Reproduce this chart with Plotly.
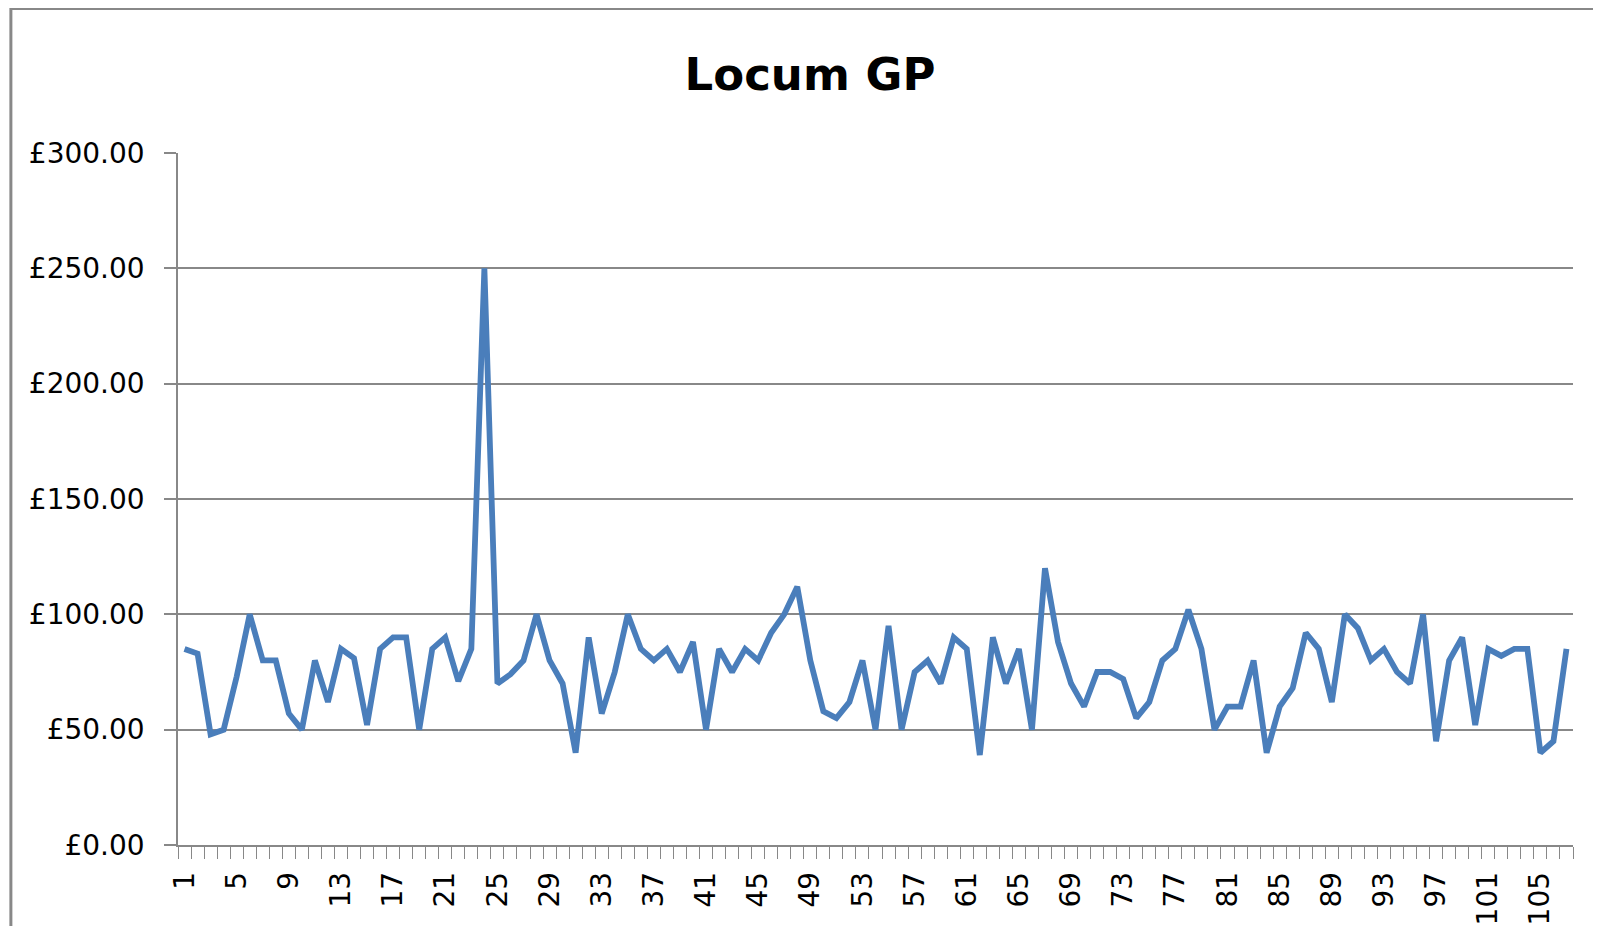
import plotly.graph_objects as go

FONT = "DejaVu Sans"
LINE_COLOR = "#4A7EBB"
GRID_COLOR = "#888888"

# one value per locum session
sessions = list(range(1, 108))
rates = [85, 83, 48, 50, 73, 100, 80, 80, 57, 50,
         80, 62, 85, 81, 52, 85, 90, 90, 50, 85,
         90, 71, 85, 250, 70, 74, 80, 100, 80, 70,
         40, 90, 57, 75, 100, 85, 80, 85, 75, 88,
         50, 85, 75, 85, 80, 92, 100, 112, 80, 58,
         55, 62, 80, 50, 95, 50, 75, 80, 70, 90,
         85, 39, 90, 70, 85, 50, 120, 88, 70, 60,
         75, 75, 72, 55, 62, 80, 85, 102, 85, 50,
         60, 60, 80, 40, 60, 68, 92, 85, 62, 100,
         94, 80, 85, 75, 70, 100, 45, 80, 90, 52,
         85, 82, 85, 85, 40, 45, 85]
tick_labels = list(range(1, 108, 4))

fig = go.Figure()
fig.add_trace(go.Scatter(x=sessions, y=rates, mode="lines",
                         line=dict(color=LINE_COLOR, width=5.8),
                         hoverinfo="x+y"))

# the page puts the figure 8px in from the corner, so the size is cut to fit the window
fig.update_layout(width=1585, height=918, paper_bgcolor="white", plot_bgcolor="white",
                  margin=dict(l=170, r=20, t=145, b=81), showlegend=False,
                  font=dict(family=FONT, size=28, color="black"),
                  title=dict(text="<b>Locum GP</b>", x=0.506, xref="container", xanchor="center",
                             y=0.9276, yref="container", yanchor="middle",
                             font=dict(family=FONT, size=45, color="black")),
                  xaxis=dict(range=[0.5, 107.5], tickmode="array", tickvals=tick_labels,
                             ticktext=[str(t) for t in tick_labels], tickangle=-90,
                             ticks="outside", ticklen=14, tickcolor="rgba(0,0,0,0)",
                             showgrid=False, zeroline=False, showline=True, automargin=False,
                             linecolor=GRID_COLOR, linewidth=1.5,
                             minor=dict(tick0=0.5, dtick=1, ticks="outside", ticklen=12,
                                        tickcolor=GRID_COLOR, tickwidth=1.2, showgrid=False),
                             tickfont=dict(family=FONT, size=28, color="black")),
                  yaxis=dict(range=[0, 300], dtick=50, tickprefix="£", tickformat=".2f",
                             ticks="outside", ticklen=12, tickcolor=GRID_COLOR, tickwidth=1.5,
                             ticklabelstandoff=14, automargin=False,
                             showgrid=True, gridcolor=GRID_COLOR, gridwidth=1.5,
                             zeroline=False, showline=True, linecolor=GRID_COLOR, linewidth=1.5,
                             tickfont=dict(family=FONT, size=28, color="black")))

# chart border (cut off at the right and bottom of the picture)
fig.add_shape(type="rect", xref="paper", yref="paper",
              x0=-0.1198, x1=1.1, y0=-0.2, y1=1.2088,
              line=dict(color=GRID_COLOR, width=3), fillcolor="rgba(0,0,0,0)", layer="below")

fig.write_html("out.html")
